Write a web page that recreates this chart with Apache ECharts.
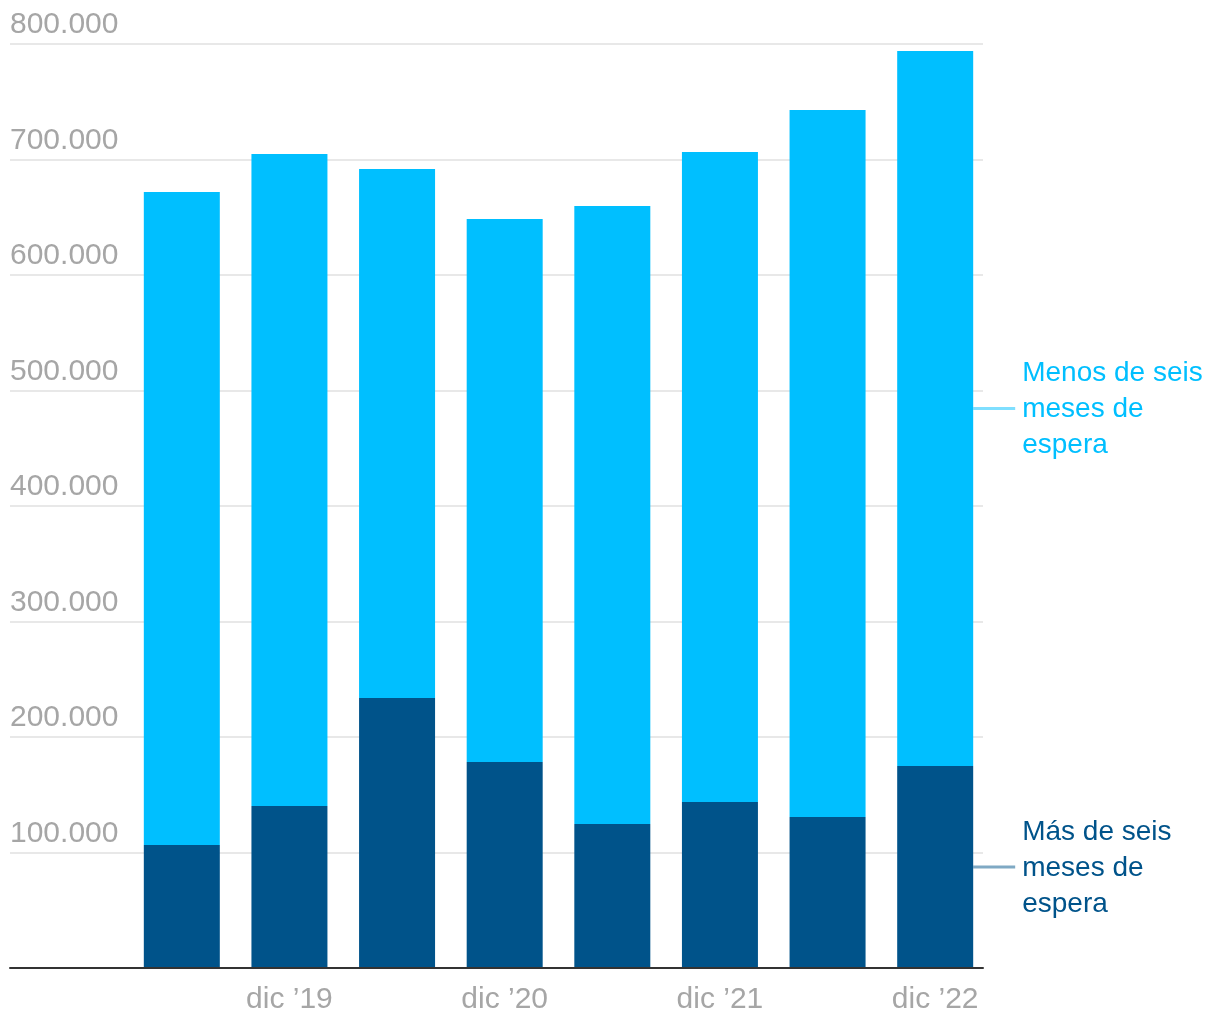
<!DOCTYPE html>
<html>
<head>
<meta charset="utf-8">
<script src="https://cdn.jsdelivr.net/npm/echarts@6/dist/echarts.min.js"></script>
<style>
html,body{margin:0;padding:0;background:#fff;}
#c{width:1220px;height:1020px;}
</style>
</head>
<body>
<div id="c"></div>
<script>
const categories = ["jun \u201919", "dic \u201919", "jun \u201920", "dic \u201920", "jun \u201921", "dic \u201921", "jun \u201922", "dic \u201922"];
const masDeSeis = [106500, 140300, 233800, 178400, 124700, 143700, 130700, 174900];
const menosDeSeis = [565400, 564500, 458000, 470100, 535000, 562800, 612200, 619000];
const seriesNames = ["Más de seis meses de espera", "Menos de seis meses de espera"];
const legendLines = [["Más de seis", "meses de", "espera"], ["Menos de seis", "meses de", "espera"]];
const yTicks = [0, 100000, 200000, 300000, 400000, 500000, 600000, 700000, 800000];

const colorDark = "#00538a";
const colorLight = "#00bfff";
const FONT = "Liberation Sans, Arial, sans-serif";

function fmt(v) {
  return String(v).replace(/\B(?=(\d{3})+(?!\d))/g, ".");
}

const chart = echarts.init(document.getElementById("c"), null, {renderer: "canvas"});
const yMax = yTicks[yTicks.length - 1];
const yStep = yTicks[1] - yTicks[0];

chart.setOption({
  animation: false,
  backgroundColor: "#ffffff",
  grid: [
    {left: 128, top: 44, width: 861, height: 924},
    {left: 10, top: 44, width: 973, height: 924}
  ],
  xAxis: [
    {
      type: "category", gridIndex: 0, data: categories,
      axisLine: {show: false}, axisTick: {show: false},
      axisLabel: {
        interval: function (i) { return i % 2 === 1; },
        color: "#a6a6a6", fontSize: 30, fontFamily: FONT, margin: 17
      }
    },
    {
      type: "value", gridIndex: 1, min: 0, max: 1, z: 10,
      axisLine: {show: true, lineStyle: {color: "#333333", width: 2}},
      axisTick: {show: false}, axisLabel: {show: false}, splitLine: {show: false}
    }
  ],
  yAxis: [
    {type: "value", gridIndex: 0, min: 0, max: yMax, interval: yStep, show: false},
    {
      type: "value", gridIndex: 1, min: 0, max: yMax, interval: yStep,
      axisLine: {show: false}, axisTick: {show: false},
      splitLine: {show: true, lineStyle: {color: "#e8e8e8", width: 2}},
      axisLabel: {
        inside: true, margin: 0, showMinLabel: false,
        align: "left", verticalAlign: "bottom", padding: [0, 0, 4, 0],
        color: "#a6a6a6", fontSize: 30, fontFamily: FONT,
        formatter: function (v) { return fmt(v); }
      }
    }
  ],
  series: [
    {
      name: seriesNames[0], type: "bar", stack: "total", xAxisIndex: 0, yAxisIndex: 0,
      data: masDeSeis, barWidth: 76, itemStyle: {color: colorDark}
    },
    {
      name: seriesNames[1], type: "bar", stack: "total", xAxisIndex: 0, yAxisIndex: 0,
      data: menosDeSeis, barWidth: 76, itemStyle: {color: colorLight}
    }
  ]
});

// Series annotations attached to the last bar's segments
const last = categories.length - 1;
const halfBar = 38;
const graphics = [];
const segs = [
  {mid: masDeSeis[last] / 2, color: colorDark, lines: legendLines[0]},
  {mid: masDeSeis[last] + menosDeSeis[last] / 2, color: colorLight, lines: legendLines[1]}
];
segs.forEach(function (s) {
  const p = chart.convertToPixel({xAxisIndex: 0, yAxisIndex: 0}, [last, s.mid]);
  const x0 = p[0] + halfBar;
  graphics.push({
    type: "line",
    shape: {x1: x0, y1: p[1], x2: x0 + 42, y2: p[1]},
    style: {stroke: s.color, lineWidth: 3, opacity: 0.5}
  });
  graphics.push({
    type: "text",
    x: x0 + 49, y: p[1] + 1,
    style: {
      text: s.lines.join("\n"),
      fill: s.color, font: "28px " + FONT, lineHeight: 36,
      align: "left", verticalAlign: "middle"
    }
  });
});
chart.setOption({graphic: graphics});
</script>
</body>
</html>
